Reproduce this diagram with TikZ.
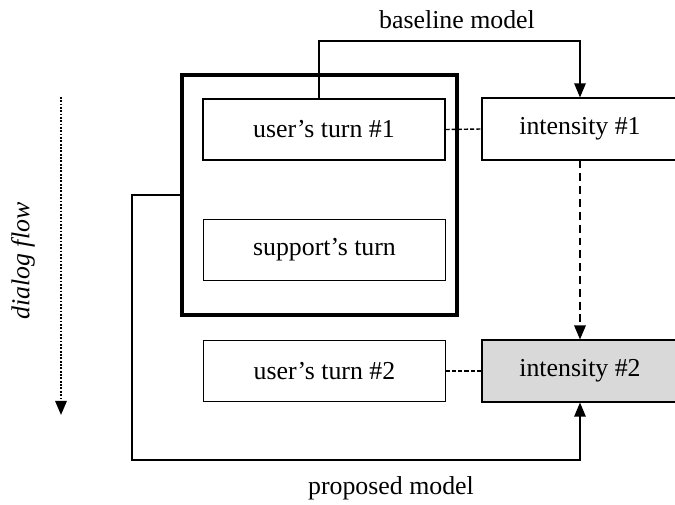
\documentclass[tikz,border=0pt]{standalone}
\usepackage{fontspec}
\setmainfont{Liberation Serif}
\usetikzlibrary{arrows.meta}

\begin{document}
\begin{tikzpicture}[
		font=\fontsize{14.7}{17}\selectfont,
		turn/.style={draw, line width=0.6pt, minimum width=4.84cm, minimum height=1.22cm, inner sep=0pt},
		level/.style={draw, line width=0.6pt, minimum width=3.92cm, minimum height=1.24cm, inner sep=0pt},
		link/.style={line width=0.8pt, dash pattern=on 2.3pt off 1.2pt},
		tip/.style={-{Triangle[length=8pt,width=6.5pt]}}
	]
			\useasboundingbox (0,0) rectangle (13.5,-10.1);
			% the context window
			\node[draw, line width=2.6pt, minimum width=5.5cm, minimum height=4.8cm] (frame) at (6.39,-3.9) {};
			\node[turn] (user1) at (6.48,-2.59) {user’s turn \#1};
			\node[turn] (support) at (6.49,-5.0) {support’s turn};
			\node[turn] (user2) at (6.49,-7.42) {user’s turn \#2};
			\node[level] (int1) at (11.6,-2.58) {intensity \#1};
			\node[level, fill=black!15] (int2) at (11.6,-7.42) {intensity \#2};
			\draw[link] (user1.east) -- (int1.west);
			\draw[link] (user2.east) -- (int2.west);
			\draw[tip, line width=1.1pt, dash pattern=on 4.5pt off 2.8pt] (int1.south) -- (int2.north);
			% the two models
			\coordinate (upper) at (6.38,-0.82);
			\coordinate (lower) at (2.64,-9.2);
			\draw[tip, line width=0.8pt] (upper |- user1.north) -- (upper) -| (int1.north);
			\draw[tip, line width=0.8pt] (frame.west) -| (lower) -| (int2.south);
			\node (base) at (9.14,-0.4) {baseline model};
			\node (prop) at (7.82,-9.76) {proposed model};
			% dialog flow
			\coordinate (flowtop) at (1.22,-1.94);
			\coordinate (flowend) at (1.22,-8.3);
			\draw[tip, line width=1.1pt, dash pattern=on 1pt off 0.9pt] (flowtop) -- (flowend);
			\node[rotate=90] (flow) at (0.46,-5.22) {\itshape dialog flow};
		\end{tikzpicture}
\end{document}
